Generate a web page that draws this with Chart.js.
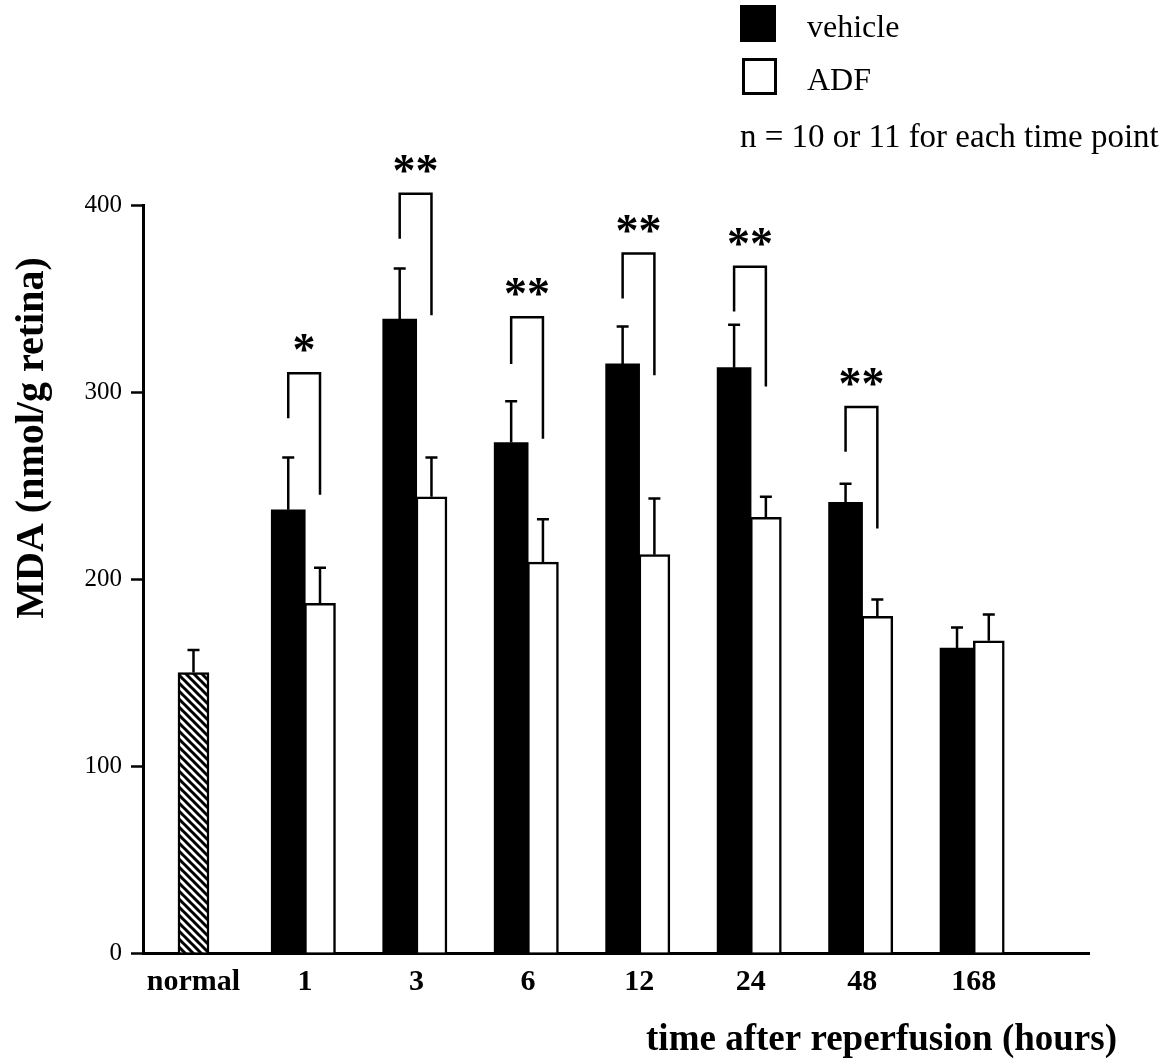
<!DOCTYPE html>
<html>
<head>
<meta charset="utf-8">
<script src="https://cdn.jsdelivr.net/npm/chart.js@4.4.1/dist/chart.umd.min.js"></script>
<style>
  html, body { margin: 0; padding: 0; background: #fff; }
  #wrap { width: 1164px; height: 1064px; }
</style>
</head>
<body>
<div id="wrap"><canvas id="c" width="1164" height="1064"></canvas></div>
<script>
// ---- data ----
const categories = ['normal', '1', '3', '6', '12', '24', '48', '168'];
const normalMean = [150];
const normalErr = [12];
const vehicleMean = [237, 339, 273, 315, 313, 241, 163];
const vehicleErr = [28, 27, 22, 20, 23, 10, 11];
const adfMean = [187, 244, 209, 213, 233, 180, 167];
const adfErr = [19, 21, 23, 30, 11, 9, 14];
const sigLabels = ['*', '**', '**', '**', '**', '**', ''];
const bracketTop = [310, 406, 340, 374, 367, 292, null];
const bracketLeftEnd = [286, 382, 315, 350, 343, 268, null];
const bracketRightEnd = [245, 341, 275, 309, 303, 227, null];
const yTicks = [0, 100, 200, 300, 400];
const seriesNames = ['vehicle', 'ADF'];
const noteText = 'n = 10 or 11 for each time point';
const xTitle = 'time after reperfusion (hours)';
const yTitle = 'MDA (nmol/g retina)';

// ---- styling ----
const SERIF = '"Liberation Serif", "Times New Roman", serif';

function hatchPattern() {
  const c = document.createElement('canvas');
  c.width = 8; c.height = 8;
  const g = c.getContext('2d');
  g.fillStyle = '#fff'; g.fillRect(0, 0, 8, 8);
  g.strokeStyle = '#000'; g.lineWidth = 3;
  g.beginPath();
  for (const k of [-8, 0, 8]) { g.moveTo(k - 1, -1); g.lineTo(k + 9, 9); }
  g.stroke();
  return document.getElementById('c').getContext('2d').createPattern(c, 'repeat');
}

const VEH_OFF = -0.15, ADF_OFF = 0.135;

const datasets = [
  {
    label: 'normal',
    data: normalMean.map((v) => ({ x: 0, y: v })),
    errors: normalErr,
    backgroundColor: hatchPattern(),
    borderColor: '#000', borderWidth: 2.5,
    barThickness: 31, grouped: false
  },
  {
    label: seriesNames[0],
    data: vehicleMean.map((v, i) => ({ x: i + 1 + VEH_OFF, y: v })),
    errors: vehicleErr,
    backgroundColor: '#000', borderColor: '#000', borderWidth: 0,
    barThickness: 34, grouped: false
  },
  {
    label: seriesNames[1],
    data: adfMean.map((v, i) => ({ x: i + 1 + ADF_OFF, y: v })),
    errors: adfErr,
    backgroundColor: '#fff', borderColor: '#000', borderWidth: 2.5,
    barThickness: 31, grouped: false
  }
];

const errorBars = {
  id: 'errorBars',
  afterDatasetsDraw(chart) {
    const ctx = chart.ctx, ys = chart.scales.y;
    ctx.save();
    ctx.strokeStyle = '#000'; ctx.lineWidth = 2.5;
    chart.data.datasets.forEach((ds, di) => {
      const meta = chart.getDatasetMeta(di);
      meta.data.forEach((el, j) => {
        const v = ds.data[j].y, e = ds.errors[j];
        const top = ys.getPixelForValue(v + e);
        ctx.beginPath();
        ctx.moveTo(el.x, el.y); ctx.lineTo(el.x, top);
        ctx.moveTo(el.x - 6, top); ctx.lineTo(el.x + 6, top);
        ctx.stroke();
      });
    });
    ctx.restore();
  }
};

const brackets = {
  id: 'brackets',
  afterDatasetsDraw(chart) {
    const ctx = chart.ctx, ys = chart.scales.y;
    const vm = chart.getDatasetMeta(1), am = chart.getDatasetMeta(2);
    ctx.save();
    ctx.strokeStyle = '#000'; ctx.lineWidth = 2.5; ctx.lineCap = 'butt';
    ctx.fillStyle = '#000';
    ctx.font = 'bold 46px ' + SERIF;
    ctx.textAlign = 'center'; ctx.textBaseline = 'alphabetic';
    bracketTop.forEach((t, i) => {
      if (t === null) return;
      const lx = vm.data[i].x, rx = am.data[i].x;
      const yt = ys.getPixelForValue(t);
      ctx.beginPath();
      ctx.moveTo(lx, ys.getPixelForValue(bracketLeftEnd[i]));
      ctx.lineTo(lx, yt); ctx.lineTo(rx, yt);
      ctx.lineTo(rx, ys.getPixelForValue(bracketRightEnd[i]));
      ctx.stroke();
      ctx.fillText(sigLabels[i], (lx + rx) / 2, yt - 30 + 22);
    });
    ctx.restore();
  }
};

const annotations = {
  id: 'annotations',
  afterDraw(chart) {
    const ctx = chart.ctx;
    ctx.save();
    ctx.fillStyle = '#000'; ctx.strokeStyle = '#000';
    // legend
    ctx.fillRect(740, 5, 36, 37);
    ctx.fillStyle = '#fff'; ctx.fillRect(743, 59, 33, 35);
    ctx.lineWidth = 3; ctx.strokeRect(743.5, 59.5, 32, 34);
    ctx.fillStyle = '#000';
    ctx.font = '32px ' + SERIF;
    ctx.textAlign = 'left'; ctx.textBaseline = 'alphabetic';
    ctx.fillText(seriesNames[0], 807, 37);
    ctx.fillText(seriesNames[1], 807, 90);
    ctx.font = '33px ' + SERIF;
    ctx.fillText(noteText, 740, 147);
    // axis titles
    ctx.font = 'bold 37px ' + SERIF;
    ctx.textAlign = 'right';
    ctx.fillText(xTitle, 1117, 1050);
    ctx.save();
    ctx.translate(43, 438);
    ctx.rotate(-Math.PI / 2);
    ctx.font = 'bold 40px ' + SERIF;
    ctx.textAlign = 'center';
    ctx.fillText(yTitle, 0, 0);
    ctx.restore();
    ctx.restore();
  }
};

new Chart(document.getElementById('c'), {
  type: 'bar',
  data: { datasets },
  options: {
    responsive: false,
    animation: false,
    devicePixelRatio: 1,
    layout: { padding: { top: 205, right: 75, left: 0, bottom: 0 } },
    plugins: { legend: { display: false }, tooltip: { enabled: false } },
    scales: {
      x: {
        type: 'linear',
        offset: false,
        min: -0.453, max: 8.034,
        afterBuildTicks: (s) => { s.ticks = categories.map((_, i) => ({ value: i })); },
        afterFit: (s) => { s.height = 111; },
        ticks: {
          autoSkip: false, maxRotation: 0,
          callback: (v) => categories[v],
          font: { family: SERIF, size: 30, weight: 'bold' },
          color: '#000', padding: 11
        },
        grid: { drawOnChartArea: false, drawTicks: false, offset: false },
        border: { display: true, color: '#000', width: 3 }
      },
      y: {
        min: 0, max: 400,
        afterBuildTicks: (s) => { s.ticks = yTicks.map((v) => ({ value: v })); },
        afterFit: (s) => { s.width = 143; },
        ticks: {
          font: { family: SERIF, size: 25 },
          color: '#000', padding: 9
        },
        grid: { drawOnChartArea: false, drawTicks: true, tickLength: 12, tickWidth: 2.5, tickColor: '#000' },
        border: { display: true, color: '#000', width: 3 }
      }
    }
  },
  plugins: [errorBars, brackets, annotations]
});
</script>
</body>
</html>
